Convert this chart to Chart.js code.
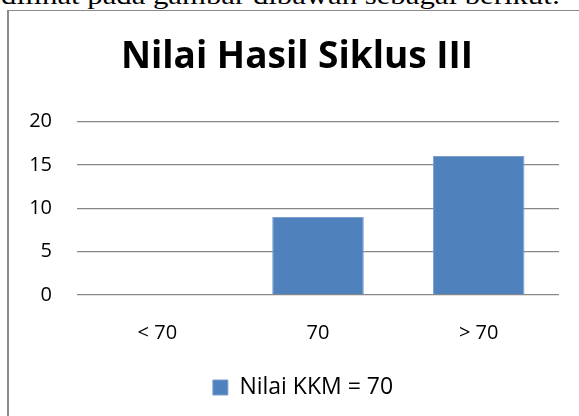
<!DOCTYPE html>
<html>
<head>
<meta charset="utf-8">
<script src="https://cdn.jsdelivr.net/npm/chart.js@4"></script>
<style>
  html, body { margin: 0; padding: 0; background: #fff; overflow: hidden; width: 579px; height: 416px; }
  #topline { position: absolute; left: 0; top: 0; width: 579px; height: 9px; overflow: hidden; }
  #topline span { position: absolute; left: 1px; top: -17px; font: 25px "Liberation Serif", serif; line-height: 1; white-space: nowrap; color: #000; transform: scaleX(1.23); transform-origin: left top; }
  #box { position: absolute; left: 7px; top: 10px; width: 600px; height: 440px; border-left: 2px solid #8a8a8a; border-top: 1px solid #8a8a8a; }
  #wrap { position: absolute; left: 9px; top: 11px; width: 578px; height: 420px; }
</style>
</head>
<body>
<div id="topline"><span>dilihat pada gambar dibawah sebagai berikut:</span></div>
<div id="box"></div>
<div id="wrap"><canvas id="myChart"></canvas></div>
<script>
const categories = ['< 70', '70', '> 70'];
const nilaiKKM = [0, 9, 16];
const yTicks = [0, 5, 10, 15, 20];

const font = "'Open Sans', 'DejaVu Sans', sans-serif";

// nudge title and legend a little right, like the original
const shiftBlocks = {
  id: 'shiftBlocks',
  afterLayout(c) {
    c.titleBlock.left += 13; c.titleBlock.right += 13;
    c.legend.left += 19; c.legend.right += 19;
  }
};

const ctx = document.getElementById('myChart').getContext('2d');
const chart = new Chart(ctx, {
  type: 'bar',
  data: {
    labels: categories,
    datasets: [{
      label: 'Nilai KKM = 70',
      data: nilaiKKM,
      backgroundColor: '#4F81BD',
      borderColor: '#7b9fcf',
      borderWidth: 1,
      barPercentage: 0.57,
      categoryPercentage: 1
    }]
  },
  options: {
    responsive: true,
    maintainAspectRatio: false,
    animation: false,
    layout: { padding: { left: 0, right: 28, top: 0, bottom: 22 } },
    plugins: {
      title: {
        display: true,
        text: 'Nilai Hasil Siklus III',
        color: '#000',
        font: { family: font, size: 37, weight: 'bold' },
        padding: { top: 24, bottom: 42 }
      },
      legend: {
        position: 'bottom',
        labels: {
          color: '#000',
          font: { family: font, size: 23 },
          boxWidth: 15,
          boxHeight: 15,
          padding: 5
        }
      },
      tooltip: { enabled: false }
    },
    scales: {
      x: {
        grid: { display: false, drawTicks: false },
        border: { display: false },
        ticks: { color: '#000', font: { family: font, size: 20 }, padding: 26 }
      },
      y: {
        min: 0,
        max: 20,
        afterBuildTicks: axis => { axis.ticks = yTicks.map(v => ({ value: v })); },
        afterFit: axis => { axis.width = 68; },
        grid: { color: '#878787', lineWidth: 1.3, drawTicks: false },
        border: { display: false },
        ticks: { color: '#000', font: { family: font, size: 20 }, padding: 25 }
      }
    }
  },
  plugins: [shiftBlocks]
});
</script>
</body>
</html>
